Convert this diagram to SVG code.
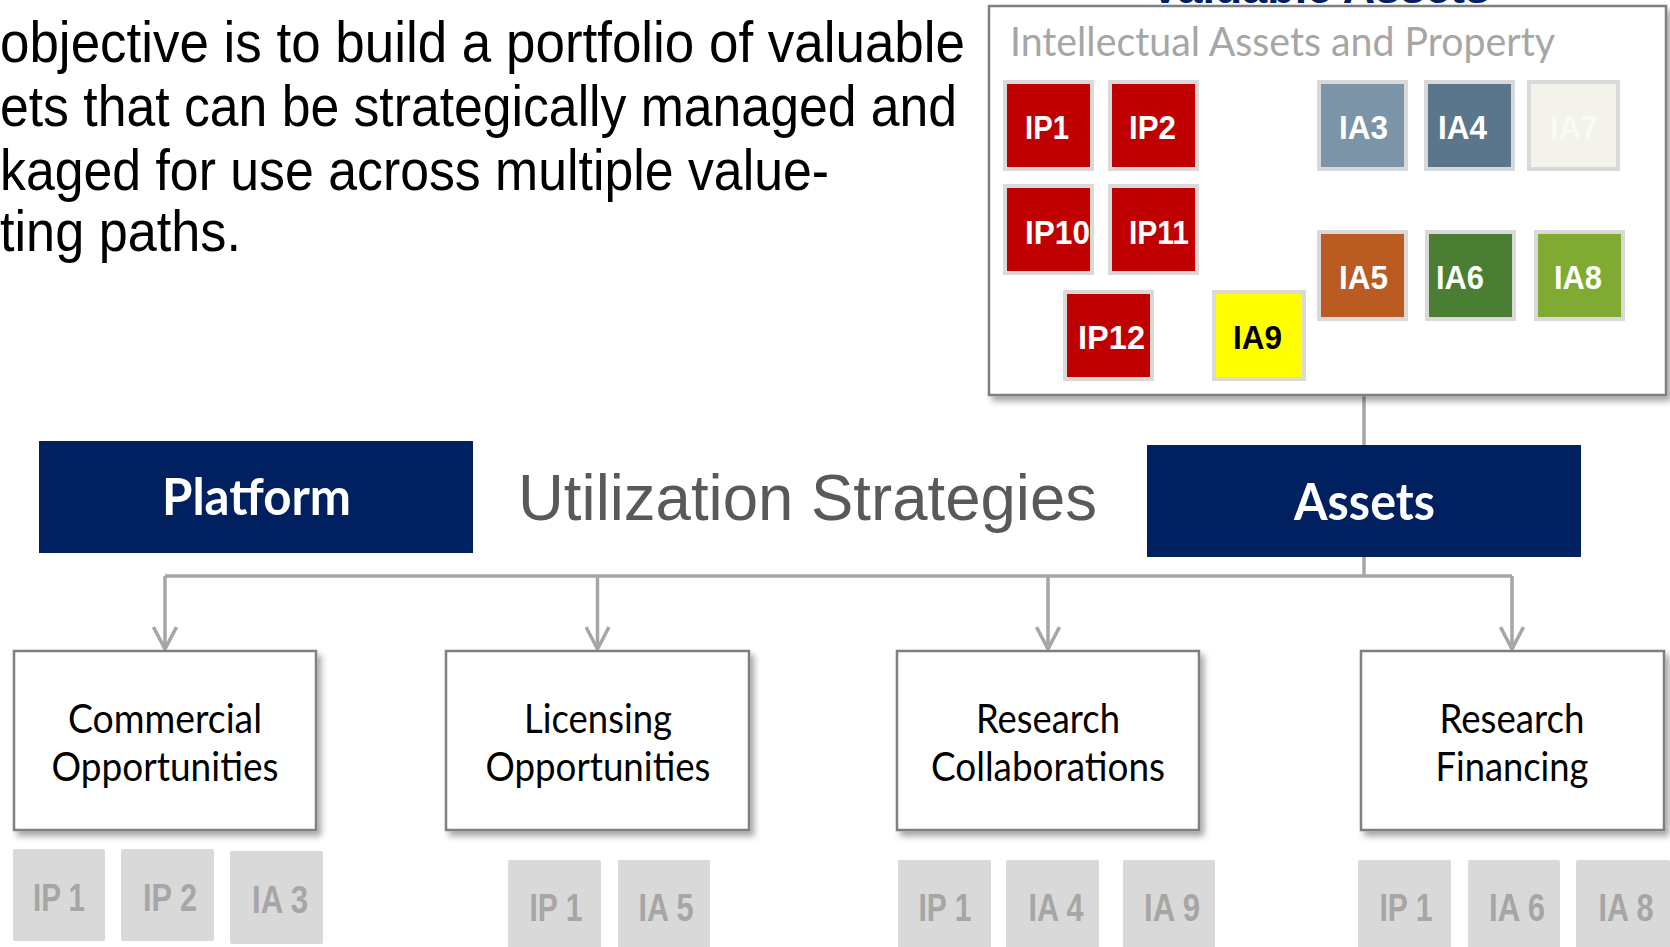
<svg xmlns="http://www.w3.org/2000/svg" width="1670" height="947" viewBox="0 0 1670 947">
<defs>
<style>
.body{font-family:"Liberation Sans Narrow","Arial Narrow","Liberation Sans",sans-serif;font-size:57px;fill:#000}
.cal{font-family:Lato,"Open Sans",sans-serif}
.tile{stroke:#D9D9D9;stroke-width:4}
.tt{font-family:"Liberation Sans Narrow","Arial Narrow","Liberation Sans",sans-serif;font-weight:bold;font-size:34px;fill:#fff}
.gt{fill:#D9D9D9}
.gtt{font-family:"Liberation Sans Narrow","Arial Narrow","Liberation Sans",sans-serif;font-weight:bold;font-size:38px;fill:#A6A6A6;text-anchor:middle}
.sbox{fill:#fff;stroke:#7F7F7F;stroke-width:2.5;filter:url(#sh)}
.stxt{font-family:Lato,"Open Sans",sans-serif;font-size:40px;fill:#000;text-anchor:middle}
.conn{fill:none;stroke:#A6A6A6;stroke-width:3.5}
.navy{fill:#002060}
</style>
<filter id="sh" x="-10%" y="-10%" width="125%" height="125%">
<feDropShadow dx="4" dy="5" stdDeviation="3" flood-color="#000" flood-opacity="0.35"/>
</filter>
<marker id="arr" viewBox="0 0 26 26" refX="23" refY="13" markerWidth="26" markerHeight="26" markerUnits="userSpaceOnUse" orient="auto">
<path d="M1,1.5 L23,13 L1,24.5" fill="none" stroke="#A6A6A6" stroke-width="3.5"/>
</marker>
</defs>
<rect width="1670" height="947" fill="#fff"/>

<g id="intro">
<text class="body" x="0" y="62" textLength="965" lengthAdjust="spacingAndGlyphs">objective is to build a portfolio of valuable</text>
<text class="body" x="0" y="126" textLength="957" lengthAdjust="spacingAndGlyphs">ets that can be strategically managed and</text>
<text class="body" x="0" y="190" textLength="829" lengthAdjust="spacingAndGlyphs">kaged for use across multiple value-</text>
<text class="body" x="0" y="251" textLength="241" lengthAdjust="spacingAndGlyphs">ting paths.</text>
</g>

<g id="valuable-assets-title">
<text x="1150" y="3" font-family="'Liberation Sans',Arial,sans-serif" font-weight="bold" font-size="44" fill="#002060" textLength="340" lengthAdjust="spacingAndGlyphs">Valuable Assets</text>
</g>

<g id="connectors">
<path class="conn" d="M1364,396 L1364,445"/>
<path class="conn" d="M1364,557 L1364,576"/>
<path class="conn" d="M165,576 L1512,576"/>
<path class="conn" d="M165,576 L165,649" marker-end="url(#arr)"/>
<path class="conn" d="M597.5,576 L597.5,649" marker-end="url(#arr)"/>
<path class="conn" d="M1048,576 L1048,649" marker-end="url(#arr)"/>
<path class="conn" d="M1512,576 L1512,649" marker-end="url(#arr)"/>
</g>

<g id="ip-box">
<rect x="989" y="6" width="677" height="389" fill="#fff" stroke="#7F7F7F" stroke-width="2.5" filter="url(#sh)"/>
<text class="cal" x="1010" y="56" font-size="40" fill="#A6A6A6" textLength="545" lengthAdjust="spacingAndGlyphs">Intellectual Assets and Property</text>
</g>

<g id="IP1"><rect class="tile" x="1005" y="82" width="87" height="87" fill="#C00000"/><text class="tt" x="1025" y="139" textLength="44" lengthAdjust="spacingAndGlyphs">IP1</text></g>
<g id="IP2"><rect class="tile" x="1110" y="82" width="87" height="87" fill="#C00000"/><text class="tt" x="1129" y="139" textLength="47" lengthAdjust="spacingAndGlyphs">IP2</text></g>
<g id="IP10"><rect class="tile" x="1005" y="186" width="87" height="87" fill="#C00000"/><text class="tt" x="1025" y="244" textLength="65" lengthAdjust="spacingAndGlyphs">IP10</text></g>
<g id="IP11"><rect class="tile" x="1110" y="186" width="87" height="87" fill="#C00000"/><text class="tt" x="1129" y="244" textLength="60" lengthAdjust="spacingAndGlyphs">IP11</text></g>
<g id="IP12"><rect class="tile" x="1065" y="292" width="87" height="87" fill="#C00000"/><text class="tt" x="1078" y="349" textLength="67" lengthAdjust="spacingAndGlyphs">IP12</text></g>
<g id="IA9"><rect class="tile" x="1214" y="292" width="90" height="87" fill="#FFFF00"/><text class="tt" x="1233" y="349" textLength="49" lengthAdjust="spacingAndGlyphs" style="fill:#000">IA9</text></g>
<g id="IA3"><rect class="tile" x="1319" y="82" width="87" height="87" fill="#7B94A8"/><text class="tt" x="1339" y="139" textLength="49" lengthAdjust="spacingAndGlyphs">IA3</text></g>
<g id="IA4"><rect class="tile" x="1426" y="82" width="87" height="87" fill="#5B768B"/><text class="tt" x="1438" y="139" textLength="49" lengthAdjust="spacingAndGlyphs">IA4</text></g>
<g id="IA7"><rect class="tile" x="1529" y="82" width="89" height="87" fill="#F3F2EB"/><text class="tt" x="1550" y="139" textLength="48" lengthAdjust="spacingAndGlyphs" style="fill:#FAFAF7">IA7</text></g>
<g id="IA5"><rect class="tile" x="1319" y="232" width="87" height="87" fill="#BA5B22"/><text class="tt" x="1339" y="289" textLength="49" lengthAdjust="spacingAndGlyphs">IA5</text></g>
<g id="IA6"><rect class="tile" x="1427" y="232" width="87" height="87" fill="#4A7F33"/><text class="tt" x="1436" y="289" textLength="48" lengthAdjust="spacingAndGlyphs">IA6</text></g>
<g id="IA8"><rect class="tile" x="1536" y="232" width="87" height="87" fill="#7FAB32"/><text class="tt" x="1554" y="289" textLength="48" lengthAdjust="spacingAndGlyphs">IA8</text></g>

<g id="platform">
<rect class="navy" x="39" y="441" width="434" height="112"/>
<text class="cal" x="162" y="515" font-size="51" font-weight="bold" fill="#fff" textLength="189" lengthAdjust="spacingAndGlyphs">Platform</text>
</g>

<g id="utilization-title">
<text x="518" y="520" font-family="'Liberation Sans Narrow','Arial Narrow','Liberation Sans',sans-serif" font-size="64" fill="#595959" textLength="579" lengthAdjust="spacingAndGlyphs">Utilization Strategies</text>
</g>

<g id="assets">
<rect class="navy" x="1147" y="445" width="434" height="112"/>
<text class="cal" x="1294" y="520" font-size="51" font-weight="bold" fill="#fff" textLength="141" lengthAdjust="spacingAndGlyphs">Assets</text>
</g>

<g id="commercial">
<rect class="sbox" x="14" y="651" width="302" height="179"/>
<text class="stxt" x="165" y="733" textLength="194" lengthAdjust="spacingAndGlyphs">Commercial</text>
<text class="stxt" x="165" y="781" textLength="227" lengthAdjust="spacingAndGlyphs">Opportunities</text>
<rect class="gt" x="13" y="849" width="92" height="92" rx="2"/><text class="gtt" x="59" y="911" textLength="52" lengthAdjust="spacingAndGlyphs">IP 1</text>
<rect class="gt" x="121" y="849" width="93" height="92" rx="2"/><text class="gtt" x="170" y="911" textLength="54" lengthAdjust="spacingAndGlyphs">IP 2</text>
<rect class="gt" x="230" y="851" width="93" height="93" rx="2"/><text class="gtt" x="280" y="913" textLength="56" lengthAdjust="spacingAndGlyphs">IA 3</text>
</g>

<g id="licensing">
<rect class="sbox" x="446" y="651" width="303" height="179"/>
<text class="stxt" x="598" y="733" textLength="148" lengthAdjust="spacingAndGlyphs">Licensing</text>
<text class="stxt" x="598" y="781" textLength="225" lengthAdjust="spacingAndGlyphs">Opportunities</text>
<rect class="gt" x="508" y="860" width="93" height="95" rx="2"/><text class="gtt" x="556" y="921" textLength="53" lengthAdjust="spacingAndGlyphs">IP 1</text>
<rect class="gt" x="618" y="860" width="92" height="95" rx="2"/><text class="gtt" x="666" y="921" textLength="55" lengthAdjust="spacingAndGlyphs">IA 5</text>
</g>

<g id="research-collaborations">
<rect class="sbox" x="897" y="651" width="302" height="179"/>
<text class="stxt" x="1048" y="733" textLength="144" lengthAdjust="spacingAndGlyphs">Research</text>
<text class="stxt" x="1048" y="781" textLength="234" lengthAdjust="spacingAndGlyphs">Collaborations</text>
<rect class="gt" x="898" y="860" width="93" height="95" rx="2"/><text class="gtt" x="945" y="921" textLength="53" lengthAdjust="spacingAndGlyphs">IP 1</text>
<rect class="gt" x="1006" y="860" width="93" height="95" rx="2"/><text class="gtt" x="1056" y="921" textLength="55" lengthAdjust="spacingAndGlyphs">IA 4</text>
<rect class="gt" x="1123" y="860" width="92" height="95" rx="2"/><text class="gtt" x="1172" y="921" textLength="56" lengthAdjust="spacingAndGlyphs">IA 9</text>
</g>

<g id="research-financing">
<rect class="sbox" x="1361" y="651" width="303" height="179"/>
<text class="stxt" x="1512" y="733" textLength="145" lengthAdjust="spacingAndGlyphs">Research</text>
<text class="stxt" x="1512" y="781" textLength="153" lengthAdjust="spacingAndGlyphs">Financing</text>
<rect class="gt" x="1358" y="860" width="93" height="95" rx="2"/><text class="gtt" x="1406" y="921" textLength="53" lengthAdjust="spacingAndGlyphs">IP 1</text>
<rect class="gt" x="1468" y="860" width="92" height="95" rx="2"/><text class="gtt" x="1517" y="921" textLength="56" lengthAdjust="spacingAndGlyphs">IA 6</text>
<rect class="gt" x="1576" y="860" width="94" height="95" rx="2"/><text class="gtt" x="1626" y="921" textLength="55" lengthAdjust="spacingAndGlyphs">IA 8</text>
</g>
</svg>
